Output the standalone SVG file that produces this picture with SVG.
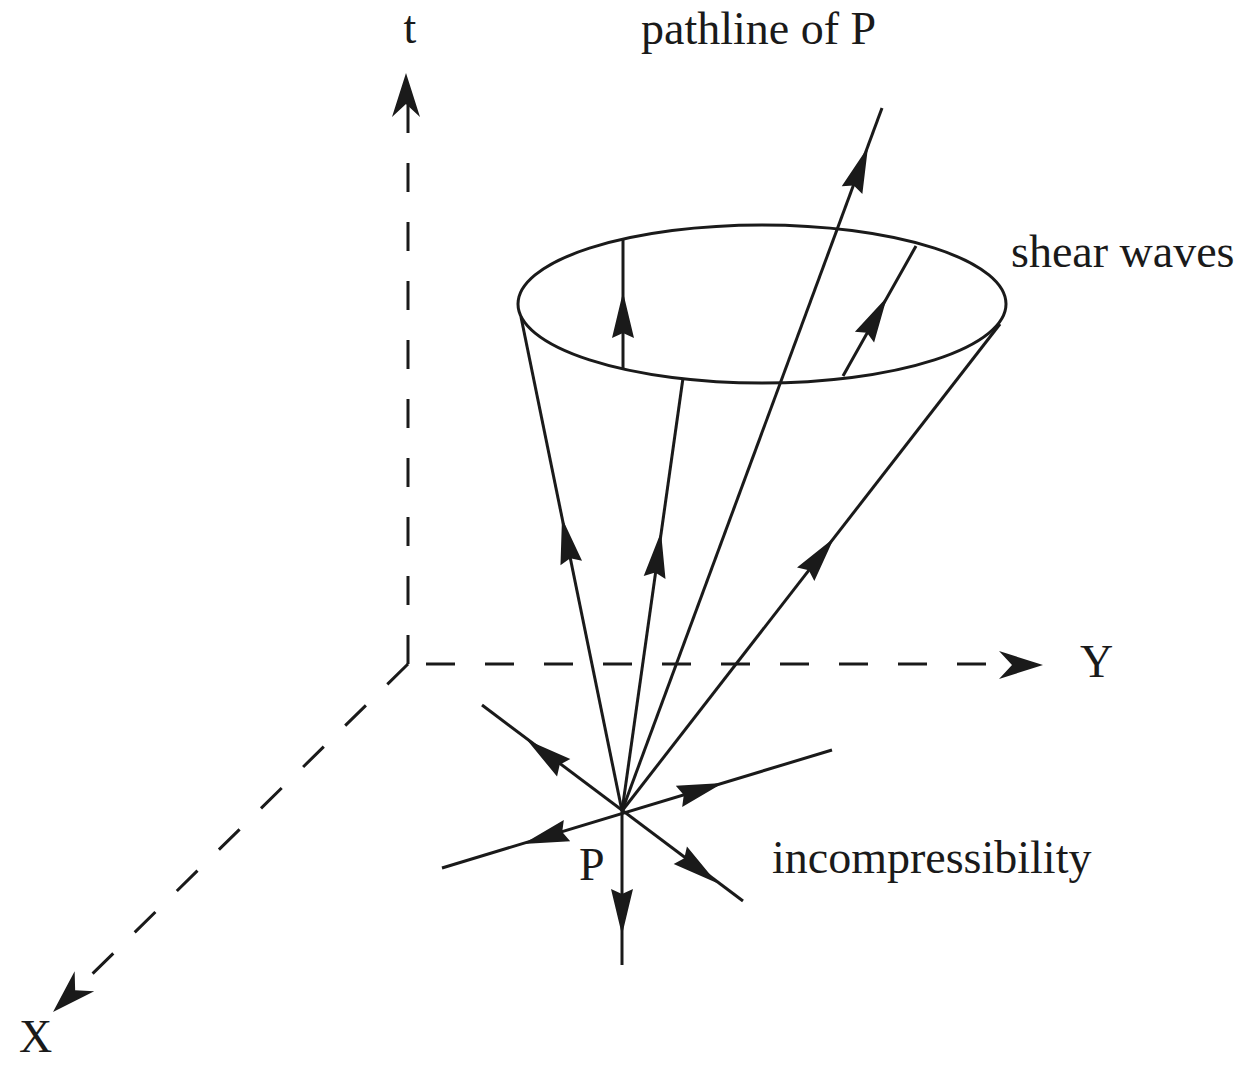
<svg xmlns="http://www.w3.org/2000/svg" xmlns:xlink="http://www.w3.org/1999/xlink" width="1249" height="1065" viewBox="0 0 1249 1065">
<style>
.ln{stroke:#1a1a1a;stroke-width:3;fill:none;stroke-linecap:butt}
.dash{stroke:#1a1a1a;stroke-width:3;fill:none;stroke-dasharray:29 30}
.ah{fill:#1a1a1a}
text{font-family:"Liberation Serif","Times New Roman",serif;font-size:46px;fill:#1a1a1a}
</style>
<defs>
<path id="ah" d="M0,0 L-46,-11 L-41,0 L-46,11 Z"/>
<path id="axah" d="M0,0 L-44,-14 L-31,0 L-44,14 Z"/>
</defs>
<g id="axes">
<line class="dash" x1="408" y1="664" x2="408" y2="104"/>
<line class="dash" x1="426" y1="664" x2="1013" y2="664"/>
<line class="dash" x1="408" y1="664" x2="78" y2="988"/>
<use href="#axah" class="ah" transform="translate(406,73) rotate(-90)"/>
<use href="#axah" class="ah" transform="translate(1043,665)"/>
<use href="#axah" class="ah" transform="translate(53,1012) rotate(135.6)"/>
</g>
<g id="cone">
<ellipse class="ln" cx="762" cy="304" rx="244" ry="79"/>
</g>
<g id="connectors">
<line class="ln" x1="622" y1="811" x2="521" y2="317"/>
<line class="ln" x1="622" y1="811" x2="683" y2="378"/>
<line class="ln" x1="622" y1="811" x2="882" y2="108"/>
<line class="ln" x1="622" y1="811" x2="1000" y2="324"/>
<line class="ln" x1="623" y1="368" x2="623" y2="240"/>
<line class="ln" x1="843" y1="376" x2="916" y2="246"/>
<line class="ln" x1="482" y1="705" x2="743" y2="901"/>
<line class="ln" x1="442" y1="868" x2="832" y2="750"/>
<line class="ln" x1="622" y1="811" x2="622" y2="965"/>
<use href="#ah" class="ah" transform="translate(562,518) rotate(-101.6)"/>
<use href="#ah" class="ah" transform="translate(661,532) rotate(-82)"/>
<use href="#ah" class="ah" transform="translate(868,147) rotate(-69.7)"/>
<use href="#ah" class="ah" transform="translate(834,538) rotate(-52)"/>
<use href="#ah" class="ah" transform="translate(623,292) rotate(-90)"/>
<use href="#ah" class="ah" transform="translate(887,297) rotate(-60.7)"/>
<use href="#ah" class="ah" transform="translate(527,740) rotate(-142.9)"/>
<use href="#ah" class="ah" transform="translate(717,883) rotate(37.1)"/>
<use href="#ah" class="ah" transform="translate(723,783) rotate(-16.9)"/>
<use href="#ah" class="ah" transform="translate(523,844) rotate(163.1)"/>
<use href="#ah" class="ah" transform="translate(622,935) rotate(90)"/>
</g>
<g id="labels">
<text x="410" y="43" text-anchor="middle">t</text>
<text x="641" y="44">pathline of P</text>
<text x="1011" y="267">shear waves</text>
<text x="772" y="873">incompressibility</text>
<text x="579" y="880">P</text>
<text x="1080" y="677">Y</text>
<text x="19" y="1052" font-size="44">X</text>
</g>
</svg>
